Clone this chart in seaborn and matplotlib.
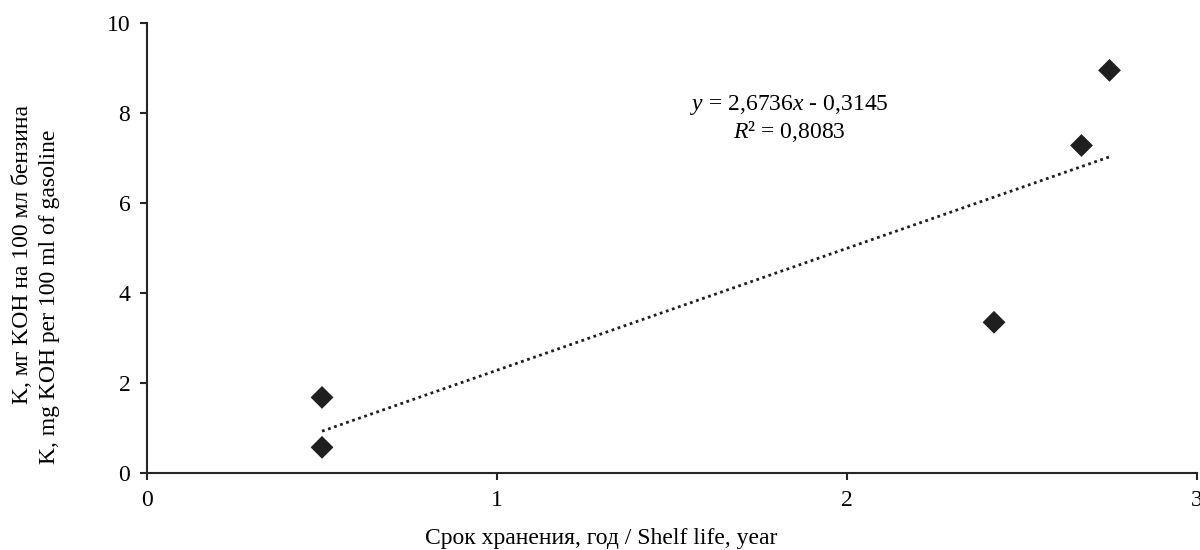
import numpy as np
import pandas as pd
import seaborn as sns
import matplotlib.pyplot as plt

# shelf life (years) vs acidity K
shelf_life = [0.5, 0.5, 2.42, 2.67, 2.75]
acidity = [1.68, 0.57, 3.35, 7.28, 8.95]

x_ticks = [0, 1, 2, 3]
y_ticks = [0, 2, 4, 6, 8, 10]

eq_text = '$y$ = 2,6736$x$ - 0,3145\n$R$² = 0,8083'
x_label = 'Срок хранения, год / Shelf life, year'
y_label_ru = 'K, мг KOH на 100 мл бензина'
y_label_en = 'K, mg KOH per 100 ml of gasoline'

df = pd.DataFrame({'x': shelf_life, 'y': acidity})

sns.set_theme(style='ticks')
plt.rcParams['font.family'] = ['Liberation Serif', 'DejaVu Serif']
plt.rcParams['mathtext.fontset'] = 'custom'
plt.rcParams['mathtext.it'] = 'Liberation Serif:italic'
plt.rcParams['mathtext.rm'] = 'Liberation Serif'

FS = 17
fig = plt.figure(figsize=(12, 5.5), dpi=100)
ax = fig.add_axes([0.1225, 0.14, 0.875, 0.818])

dark = '#1f1f1f'
sns.regplot(data=df, x='x', y='y', ax=ax, ci=None, marker='D', truncate=True,
            scatter_kws=dict(s=135, color=dark, edgecolor='none', alpha=1),
            line_kws=dict(ls=(0, (1, 1.3)), lw=2, color=dark))

ax.text(1.834, 7.88, eq_text, ha='center', va='center', fontsize=FS,
        linespacing=1.1, color='black')

ax.set_xlim(0, 3)
ax.set_ylim(0, 10)
ax.set_xticks(x_ticks)
ax.set_yticks(y_ticks)
ax.set_xlabel(x_label, fontsize=FS, color='black')
ax.xaxis.set_label_coords(0.433, -0.122)
ax.set_ylabel('')

# two y-label lines sit as separate text boxes in the original
fig.text(23 / 1200, 1 - 255 / 550, y_label_ru, rotation=90, fontsize=FS,
         ha='center', va='center', color='black')
fig.text(50 / 1200, 1 - 297 / 550, y_label_en, rotation=90, fontsize=FS,
         ha='center', va='center', color='black')

for side in ['top', 'right']:
    ax.spines[side].set_visible(False)
for side in ['left', 'bottom']:
    ax.spines[side].set_linewidth(1.5)
    ax.spines[side].set_color('#262626')
ax.tick_params(direction='out', length=5, width=1.5, color='#262626',
               labelsize=FS, labelcolor='black', pad=7)

fig.savefig('out.png', dpi=100)
